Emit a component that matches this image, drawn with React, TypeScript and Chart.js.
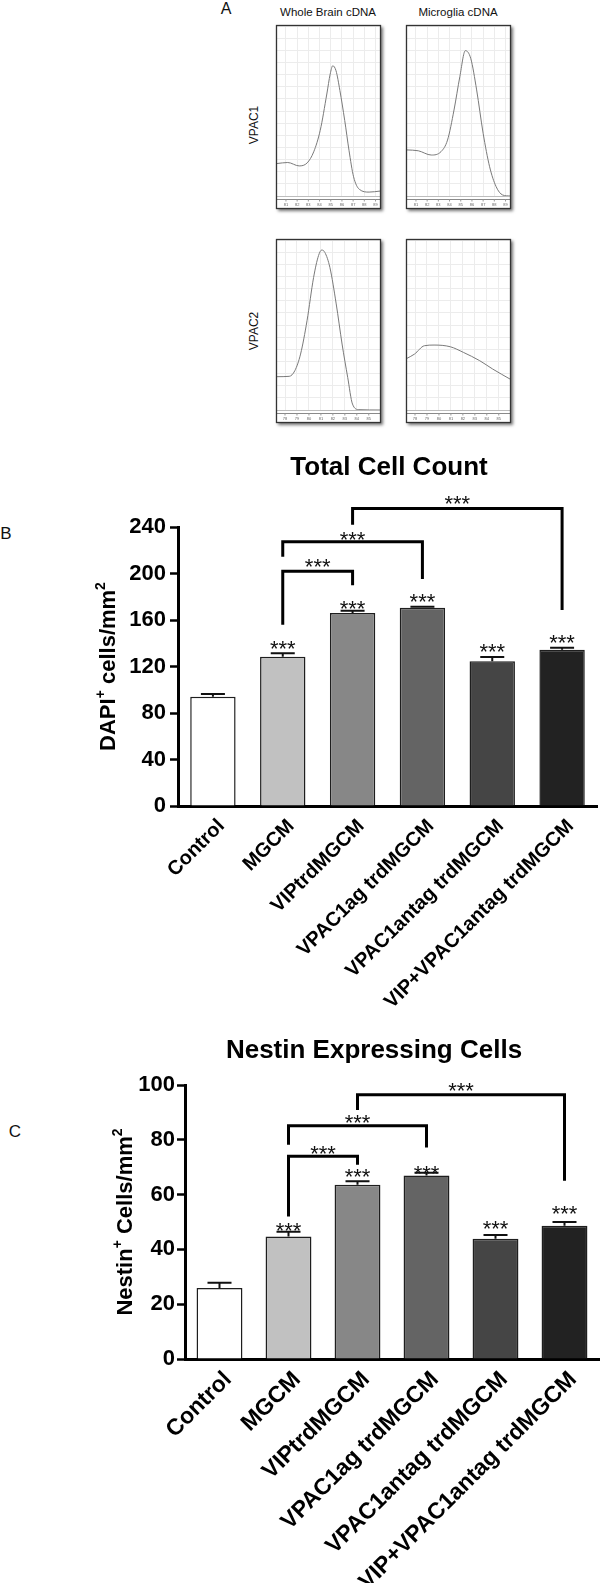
import React, { useEffect, useRef } from 'react';
import { Chart, registerables } from 'chart.js';

Chart.register(...registerables);

const SANS = '"Liberation Sans", Arial, Helvetica, sans-serif';

// ---------------- Panel A: melt curves (-dF/dT, relative) vs temperature ----------------
const columnTitles = ['Whole Brain cDNA', 'Microglia cDNA'];
const rowTitles = ['VPAC1', 'VPAC2'];

const vpac1TickTemps = [81, 82, 83, 84, 85, 86, 87, 88, 89];
const vpac2TickTemps = [78, 79, 80, 81, 82, 83, 84, 85];

const brainVpac1Temp = [80.2, 81.16, 82.18, 82.9, 83.48, 84.06, 84.65, 84.95, 85.18, 85.47, 85.82, 86.25, 86.63, 87.04, 87.56, 88.43, 89.4];
const brainVpac1Signal = [19.1, 19.7, 17.7, 19.5, 26, 38.6, 60, 71.7, 76.6, 73.7, 62, 44.4, 26.9, 11.3, 3.9, 2.3, 2.9];

const microVpac1Temp = [80.2, 81.21, 82.37, 83.24, 83.82, 84.4, 84.92, 85.41, 85.89, 86.42, 87.0, 87.58, 88.16, 88.74, 89.4];
const microVpac1Signal = [27.1, 26.6, 24.1, 26.1, 32.9, 50.6, 70.2, 85.5, 81, 62.4, 36.9, 17.2, 5.5, 0.6, 0];

const brainVpac2Temp = [77.33, 78.35, 78.82, 79.3, 79.84, 80.39, 80.8, 81.07, 81.33, 81.75, 82.28, 82.77, 83.24, 83.64, 84.18, 85.94];
const brainVpac2Signal = [19.6, 19.8, 23.1, 32.9, 52.5, 78, 90.8, 94.1, 92.7, 83.9, 62.4, 38.8, 19.2, 3.5, 0.2, 0];

const microVpac2Temp = [77.33, 77.96, 78.78, 79.59, 80.95, 82.04, 83.41, 84.49, 85.94];
const microVpac2Signal = [30.4, 32.9, 37.8, 38.2, 37.2, 33.9, 29, 24.1, 18.2];

// ---------------- Panels B and C: bar charts ----------------
const treatmentGroups = ['Control', 'MGCM', 'VIPtrdMGCM', 'VPAC1ag trdMGCM', 'VPAC1antag trdMGCM', 'VIP+VPAC1antag trdMGCM'];
const groupColors = ['#ffffff', '#c1c1c1', '#878787', '#646464', '#454545', '#222222'];

const dapiMean = [94.0, 128.4, 166.0, 170.6, 124.5, 134.5];
const dapiSem = [2.3, 2.9, 2.0, 0.8, 3.7, 1.7];
const dapiStarLevel: (number | null)[] = [null, 140, 174.6, 180.6, 137, 144.8];
const dapiTicks = [0, 40, 80, 120, 160, 200, 240];
// [fromGroup, toGroup, bracketLevel, leftLegEnd, rightLegEnd, starsLevel]
const dapiComparisons = [
  [1, 2, 202, 156, 190, 210],
  [1, 3, 227.4, 214.4, 195.3, 233.5],
  [2, 5, 256, 242, 168.6, 264.7],
];

const nestinMean = [25.9, 44.7, 63.6, 67.0, 43.9, 48.6];
const nestinSem = [1.9, 1.7, 1.3, 1.0, 1.4, 1.4];
const nestinStarLevel: (number | null)[] = [null, 48.6, 68.3, 69.7, 49.6, 54.8];
const nestinTicks = [0, 20, 40, 60, 80, 100];
const nestinComparisons = [
  [1, 2, 74, 52, 70.9, 77],
  [1, 3, 85.1, 78.2, 77.2, 88.0],
  [2, 5, 96.4, 90.9, 65.1, 100],
];

// ---------------- Components ----------------
function Label({ x, y, text, size, rot = 0, weight = 'normal' }: any) {
  return (
    <div
      style={{
        position: 'absolute',
        left: x,
        top: y,
        transform: `translate(-50%, -50%) rotate(${rot}deg)`,
        font: `${weight} ${size}px ${SANS}`,
        whiteSpace: 'nowrap',
        lineHeight: 1,
        color: '#111',
      }}
    >
      {text}
    </div>
  );
}

function MeltCurve({ left, top, w, h, temps, signal, tMin, tMax, tickTemps }: any) {
  const ref = useRef<HTMLCanvasElement>(null);
  const m = 4;
  const strip = 13;
  const cw = w + m + 7;
  const chH = h + m + 7;
  useEffect(() => {
    const frame = {
      id: 'frame',
      beforeDraw(chart: any) {
        const ctx = chart.ctx;
        ctx.save();
        ctx.shadowColor = 'rgba(0,0,0,0.55)';
        ctx.shadowBlur = 3;
        ctx.shadowOffsetX = 2;
        ctx.shadowOffsetY = 2;
        ctx.fillStyle = '#fff';
        ctx.fillRect(m, m, w, h);
        ctx.restore();
      },
      afterDraw(chart: any) {
        const ctx = chart.ctx;
        const ca = chart.chartArea;
        const xs = chart.scales.x;
        ctx.save();
        const yb = Math.round(ca.bottom) + 0.5;
        ctx.lineWidth = 1;
        ctx.strokeStyle = '#bdbdbd';
        ctx.beginPath();
        ctx.moveTo(m, yb);
        ctx.lineTo(m + w, yb);
        ctx.stroke();
        ctx.strokeStyle = '#8a8a8a';
        ctx.beginPath();
        ctx.moveTo(m, yb + 3);
        ctx.lineTo(m + w, yb + 3);
        ctx.stroke();
        ctx.fillStyle = '#666';
        ctx.font = `4px ${SANS}`;
        ctx.textAlign = 'center';
        ctx.textBaseline = 'middle';
        tickTemps.forEach((t: number) => {
          const x = xs.getPixelForValue(t);
          ctx.strokeStyle = '#999';
          ctx.beginPath();
          ctx.moveTo(x, yb + 3);
          ctx.lineTo(x, yb + 5);
          ctx.stroke();
          ctx.fillText(String(t), x, yb + 8);
        });
        ctx.strokeStyle = '#333';
        ctx.lineWidth = 1.3;
        ctx.strokeRect(m + 0.5, m + 0.5, w - 1, h - 1);
        ctx.restore();
      },
    };
    const chart = new Chart(ref.current as HTMLCanvasElement, {
      type: 'line',
      data: {
        datasets: [
          {
            data: temps.map((t: number, i: number) => ({ x: t, y: signal[i] })),
            borderColor: '#7a7a7a',
            borderWidth: 1,
            pointRadius: 0,
            cubicInterpolationMode: 'monotone',
            fill: false,
          },
        ],
      },
      options: {
        responsive: false,
        animation: false,
        events: [],
        layout: { padding: { left: m + 1, top: m + 1, right: cw - (m + w - 1), bottom: chH - (m + h - strip) } },
        plugins: { legend: { display: false }, tooltip: { enabled: false } },
        scales: {
          x: {
            type: 'linear',
            min: tMin,
            max: tMax,
            afterBuildTicks: (s: any) => {
              s.ticks = tickTemps.map((v: number) => ({ value: v }));
            },
            afterFit: (s: any) => {
              s.height = 0;
            },
            ticks: { display: false },
            grid: { color: '#ececec', drawTicks: false },
            border: { display: false },
          },
          y: {
            min: 0,
            max: 100,
            afterFit: (s: any) => {
              s.width = 0;
            },
            ticks: { display: false, stepSize: 100 / 14 },
            grid: { color: '#ececec', drawTicks: false },
            border: { display: false },
          },
        },
      } as any,
      plugins: [frame],
    });
    return () => chart.destroy();
  }, []);
  return (
    <canvas
      ref={ref}
      width={cw}
      height={chH}
      style={{ position: 'absolute', left: left - m, top: top - m, width: cw, height: chH }}
    />
  );
}

function BarPanel(p: any) {
  const ref = useRef<HTMLCanvasElement>(null);
  useEffect(() => {
    const annot = {
      id: 'annot',
      afterDraw(chart: any) {
        const { ctx, chartArea } = chart;
        const ys = chart.scales.y;
        const xs = chart.scales.x;
        const cx = (i: number) => xs.getPixelForValue(i);
        const py = (v: number) => ys.getPixelForValue(v);
        ctx.save();
        // error bars (SEM, upper)
        ctx.strokeStyle = '#111';
        ctx.lineWidth = 2;
        p.means.forEach((mv: number, i: number) => {
          const x = cx(i);
          const y0 = py(mv);
          const y1 = py(mv + p.sems[i]);
          ctx.beginPath();
          ctx.moveTo(x, y0);
          ctx.lineTo(x, y1);
          ctx.moveTo(x - 12, y1);
          ctx.lineTo(x + 12, y1);
          ctx.stroke();
        });
        // significance stars over bars
        ctx.fillStyle = '#111';
        ctx.font = `22px ${SANS}`;
        ctx.textAlign = 'center';
        ctx.textBaseline = 'alphabetic';
        p.starLevels.forEach((s: number | null, i: number) => {
          if (s == null) return;
          ctx.fillText('***', cx(i), py(s) + 12.5);
        });
        // comparison brackets
        ctx.strokeStyle = '#000';
        ctx.lineWidth = 3;
        ctx.lineJoin = 'miter';
        p.comparisons.forEach((c: number[]) => {
          const [a, b, lv, la, lb, sv] = c;
          const xa = cx(a);
          const xb = cx(b);
          const yt = py(lv);
          ctx.beginPath();
          ctx.moveTo(xa, py(la));
          ctx.lineTo(xa, yt);
          ctx.lineTo(xb, yt);
          ctx.lineTo(xb, py(lb));
          ctx.stroke();
          ctx.fillText('***', (xa + xb) / 2, py(sv) + 12.5);
        });
        // rotated category labels
        ctx.fillStyle = '#000';
        ctx.font = `bold ${p.labelSize}px ${SANS}`;
        ctx.textAlign = 'right';
        ctx.textBaseline = 'middle';
        treatmentGroups.forEach((g, i) => {
          ctx.save();
          ctx.translate(cx(i) + 8.5, chartArea.bottom + 17);
          ctx.rotate(-Math.PI / 4);
          ctx.fillText(g, 0, 0);
          ctx.restore();
        });
        // chart title
        ctx.font = `bold 26px ${SANS}`;
        ctx.textAlign = 'center';
        ctx.fillText(p.title, p.titleX, p.titleY);
        // y-axis title with superscripts
        const mainFont = `bold 22px ${SANS}`;
        const supFont = `bold 14px ${SANS}`;
        let total = 0;
        const widths = p.yTitle.map(([t, sup]: [string, boolean]) => {
          ctx.font = sup ? supFont : mainFont;
          const wv = ctx.measureText(t).width;
          total += wv;
          return wv;
        });
        ctx.save();
        ctx.translate(p.yTitleX, (chartArea.top + chartArea.bottom) / 2);
        ctx.rotate(-Math.PI / 2);
        ctx.textAlign = 'left';
        ctx.textBaseline = 'alphabetic';
        let pos = -total / 2;
        p.yTitle.forEach(([t, sup]: [string, boolean], i: number) => {
          ctx.font = sup ? supFont : mainFont;
          ctx.fillText(t, pos, sup ? -10 : 0);
          pos += widths[i];
        });
        ctx.restore();
        ctx.restore();
      },
    };
    const chart = new Chart(ref.current as HTMLCanvasElement, {
      type: 'bar',
      data: {
        labels: treatmentGroups,
        datasets: [
          {
            data: p.means,
            backgroundColor: groupColors,
            borderColor: '#1e1e1e',
            borderWidth: 1.5,
            barPercentage: p.barPct,
            categoryPercentage: 1,
          },
        ],
      },
      options: {
        responsive: false,
        animation: false,
        events: [],
        layout: { padding: { top: p.areaTop, right: p.areaRight, left: 0, bottom: 0 } },
        plugins: { legend: { display: false }, tooltip: { enabled: false }, title: { display: false } },
        scales: {
          x: {
            afterFit: (s: any) => {
              s.height = p.axisHeight;
            },
            ticks: { display: false },
            grid: { display: false },
            border: { display: true, color: '#000', width: 3 },
          },
          y: {
            min: 0,
            max: p.ticks[p.ticks.length - 1],
            afterBuildTicks: (s: any) => {
              s.ticks = p.ticks.map((v: number) => ({ value: v }));
            },
            afterFit: (s: any) => {
              s.width = p.areaLeft;
            },
            ticks: {
              color: '#000',
              padding: p.tickPad,
              font: { family: SANS, size: 22, weight: 'bold' },
            },
            grid: { drawOnChartArea: false, tickLength: 8, tickWidth: 2.5, tickColor: '#000', color: '#000' },
            border: { display: true, color: '#000', width: 3 },
          },
        },
      } as any,
      plugins: [annot],
    });
    return () => chart.destroy();
  }, []);
  return (
    <canvas
      ref={ref}
      width={600}
      height={p.height}
      style={{ position: 'absolute', left: 0, top: p.top, width: 600, height: p.height }}
    />
  );
}

export default function App() {
  return (
    <div style={{ position: 'absolute', left: 0, top: 0, width: 600, height: 1583, background: '#fff', overflow: 'hidden' }}>
      <Label x={226} y={9} text="A" size={16} />
      <Label x={328} y={13} text={columnTitles[0]} size={11.5} />
      <Label x={458} y={13} text={columnTitles[1]} size={11.5} />
      <Label x={254} y={125} text={rowTitles[0]} size={12} rot={-90} />
      <Label x={254} y={331} text={rowTitles[1]} size={12} rot={-90} />

      <MeltCurve left={276} top={25} w={105} h={184} temps={brainVpac1Temp} signal={brainVpac1Signal} tMin={80.2} tMax={89.4} tickTemps={vpac1TickTemps} />
      <MeltCurve left={406} top={25} w={105} h={184} temps={microVpac1Temp} signal={microVpac1Signal} tMin={80.2} tMax={89.4} tickTemps={vpac1TickTemps} />
      <MeltCurve left={276} top={239} w={105} h={184} temps={brainVpac2Temp} signal={brainVpac2Signal} tMin={77.33} tMax={85.94} tickTemps={vpac2TickTemps} />
      <MeltCurve left={406} top={239} w={105} h={184} temps={microVpac2Temp} signal={microVpac2Signal} tMin={77.33} tMax={85.94} tickTemps={vpac2TickTemps} />

      <Label x={6} y={533} text="B" size={17} />
      <BarPanel
        top={440}
        height={580}
        means={dapiMean}
        sems={dapiSem}
        starLevels={dapiStarLevel}
        ticks={dapiTicks}
        comparisons={dapiComparisons}
        title="Total Cell Count"
        titleX={389}
        titleY={27.5}
        yTitle={[['DAPI', false], ['+', true], [' cells/mm', false], ['2', true]]}
        yTitleX={115}
        areaTop={87}
        areaLeft={178}
        areaRight={3}
        axisHeight={214}
        barPct={0.65}
        labelSize={20}
        tickPad={4}
      />

      <Label x={15} y={1131} text="C" size={17} />
      <BarPanel
        top={1020}
        height={563}
        means={nestinMean}
        sems={nestinSem}
        starLevels={nestinStarLevel}
        ticks={nestinTicks}
        comparisons={nestinComparisons}
        title="Nestin Expressing Cells"
        titleX={374}
        titleY={31}
        yTitle={[['Nestin', false], ['+', true], [' Cells/mm', false], ['2', true]]}
        yTitleX={132}
        areaTop={65}
        areaLeft={185}
        areaRight={1}
        axisHeight={224}
        barPct={0.665}
        labelSize={23}
        tickPad={2}
      />
    </div>
  );
}
